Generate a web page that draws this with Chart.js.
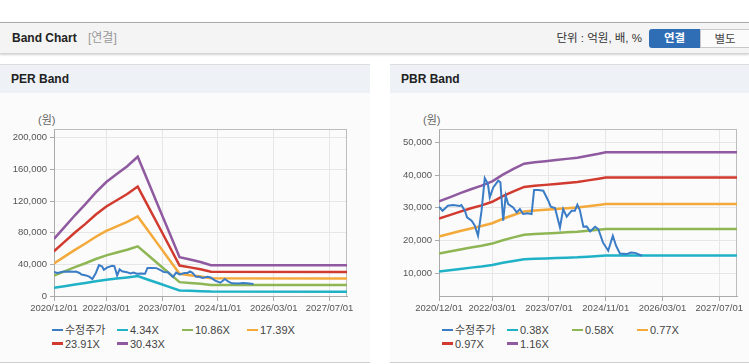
<!DOCTYPE html>
<html><head><meta charset="utf-8">
<script src="https://cdn.jsdelivr.net/npm/chart.js@4.4.1/dist/chart.umd.min.js"></script>
<style>
body{margin:0;width:749px;height:364px;overflow:hidden;background:#fff;font-family:"Liberation Sans",Arial,"Noto Sans CJK KR",sans-serif;position:relative}
.hdr{position:absolute;left:0;top:22px;width:749px;height:30px;background:#f4f4f4;border-top:1px solid #aaa;border-bottom:1px solid #d4d4d4;box-shadow:0 1px 2px rgba(0,0,0,.18)}
.hdr .t{position:absolute;left:12px;top:0;line-height:31px;font-size:12px;font-weight:bold;color:#222}
.hdr .s{position:absolute;left:88px;top:0;line-height:31px;font-size:12px;color:#999}
.hdr .u{position:absolute;right:107px;top:0;line-height:31px;font-size:11.5px;color:#333}
.btn{position:absolute;top:6px;height:19px;line-height:19px;font-size:11.5px;text-align:center}
.b1{left:649px;width:51px;background:#2f6db4;color:#fff;font-weight:bold;border-radius:3px 0 0 3px}
.b2{left:700px;width:49px;background:#fbfbfb;color:#444;border:1px solid #c8c8c8;border-right:none;box-sizing:border-box}
.panel{position:absolute;top:64px;height:297px;background:#fbfbfb;border-top:1px solid #dcdcdc;border-bottom:1px solid #cfcfcf}
.pt{height:28px;background:#eef2f7;font-weight:bold;font-size:12px;line-height:29px;padding-left:11px;color:#222}
.unit{position:absolute;top:46px;font-size:11px;color:#666}
.cv{position:absolute;top:29px;left:0}
.lg{position:absolute;top:259px;left:0;font-size:11px;color:#444}
.li{position:absolute;height:13px;line-height:13px;white-space:nowrap}
.li i{display:inline-block;width:11px;height:2.5px;vertical-align:middle;margin-right:2px;position:relative;top:-1px}
</style></head>
<body>
<div class="hdr"><span class="t">Band Chart</span><span class="s">[연결]</span><span class="u">단위 : 억원, 배, %</span>
<div class="btn b1">연결</div><div class="btn b2">별도</div></div>

<div class="panel" style="left:0;width:370px"><div class="pt">PER Band</div><div class="unit" style="left:38px">(원)</div>
<canvas id="per" class="cv" width="370" height="230"></canvas><div class="lg" id="lgPer"></div></div>

<div class="panel" style="left:390px;width:359px"><div class="pt">PBR Band</div><div class="unit" style="left:33px">(원)</div>
<canvas id="pbr" class="cv" width="359" height="230"></canvas><div class="lg" id="lgPbr"></div></div>

<script>
// x axis: months since 2020/12/01
const xTickMonths = [0, 15, 31, 47, 63, 79];
const xTickLabels = ["2020/12/01", "2022/03/01", "2023/07/01", "2024/11/01", "2026/03/01", "2027/07/01"];

// adjusted share price (수정주가)
const priceMonths = [0,1.0,2.5,4.0,5.8,6.3,7.3,7.9,9.2,10.1,11.0,12.0,12.9,13.8,14.3,15.3,16.7,17.3,18.1,18.8,19.5,20.9,21.9,22.8,23.7,25.0,26.1,26.8,28.0,29.4,30.8,31.5,32.7,34.1,35.0,36.0,37.4,38.3,39.0,39.7,40.7,41.6,42.6,44.0,44.9,46.2,47.7,49.0,49.9,51.0,52.9,54.1,55.3,57.2];
const priceValues = [30300,29100,30630,30840,30530,30800,29100,27050,26030,24500,21440,29100,39100,37270,33170,36230,38280,37800,26030,33700,31150,30100,28580,29600,28080,28300,28080,35430,35430,35220,32160,30320,29920,23980,29600,27260,29100,29100,30930,29310,24200,24300,22760,24200,23490,19390,16850,21440,18380,16020,15830,16320,16200,15310];

// PER band
const perMonths = [0,3,6,9,12,15,18,21,24,27,30,33,36,39,42,45,84];
const perLabels = ["4.34X","10.86X","17.39X","23.91X","30.43X"];
const per434  = [10268,12408,14548,16544,18684,20537,21965,23388,25103,20572,16045,11518,6987,6562,6132,5564,5520];
const per1086 = [25695,31049,36403,41398,46752,51390,54962,58525,62814,51476,40149,28822,17485,16420,15345,13923,13814];
const per1739 = [41145,49718,58291,66291,74864,82289,88011,93715,100584,82429,64291,46153,27998,26294,24572,22294,22120];
const per2391 = [56571,68359,80146,91145,102933,113142,121009,128851,138295,113333,88395,63457,38495,36152,33785,30653,30414];
const per3043 = [72000,87000,102000,116000,131000,144000,154000,164000,176000,144250,112500,80750,49000,46000,43000,39000,38700];
const perYTicks = [0,40000,80000,120000,160000,200000];

// PBR band
const pbrMonths = [0,3,6,9,12,15,18,21,24,27,30,33,36,39,42,45,47,84];
const pbrLabels = ["0.38X","0.58X","0.77X","0.97X","1.16X"];
const pbr038 = [10466,10876,11295,11685,12042,12475,13143,13719,14250,14381,14496,14610,14728,14840,15036,15233,15380,15380];
const pbr058 = [15975,16600,17240,17835,18380,19040,20060,20940,21750,21950,22125,22300,22480,22650,22950,23250,23475,23475];
const pbr077 = [21208,22038,22887,23678,24401,25278,26631,27799,28875,29141,29373,29605,29844,30070,30468,30866,31165,31165];
const pbr097 = [26717,27762,28832,29828,30739,31843,33548,35020,36375,36710,37003,37295,37596,37880,38382,38883,39260,39260];
const pbr116 = [31950,33200,34480,35670,36760,38080,40120,41880,43500,43900,44250,44600,44960,45300,45900,46500,46950,46950];
const pbrYTicks = [10000,20000,30000,40000,50000];

const priceName = "수정주가";
const colors = ["#3a7cc6","#1fb1c6","#8fb655","#f4a93b","#d13a2e","#8f5a9f"];

const pts = (xs, ys) => xs.map((x, i) => ({x: x, y: ys[i]}));
const tickFont = {family: "'Liberation Sans',Arial,sans-serif", size: 9.5};

const frame = {id:'frame', beforeDatasetsDraw(c){const a=c.chartArea,ctx=c.ctx;ctx.save();ctx.strokeStyle='#bdbdbd';ctx.lineWidth=1;
  ctx.beginPath();ctx.moveTo(a.left,Math.round(a.top)+0.5);ctx.lineTo(a.right,Math.round(a.top)+0.5);
  ctx.moveTo(Math.round(a.right)-0.5,a.top);ctx.lineTo(Math.round(a.right)-0.5,a.bottom);ctx.stroke();ctx.restore();}};

function makeChart(id, lgId, bandMonths, bands, labels, yMin, yMax, yTicks, yWidth, padRight) {
  const datasets = [{label: priceName, data: pts(priceMonths, priceValues), borderColor: colors[0], borderWidth: 2}];
  bands.forEach((b, i) => datasets.push({label: labels[i], data: pts(bandMonths, b), borderColor: colors[i+1], borderWidth: 2.5}));
  datasets.forEach(d => {d.pointRadius = 0; d.fill = false; d.tension = 0; d.backgroundColor = d.borderColor;});
  const ch = new Chart(document.getElementById(id), {
    type: 'line',
    data: {datasets},
    options: {
      responsive: false, animation: false, devicePixelRatio: 1,
      layout: {padding: {left: 0, top: 35, right: padRight, bottom: 0}},
      plugins: {legend: {display: false}, tooltip: {enabled: false}},
      scales: {
        x: {type: 'linear', min: 0, max: 84,
          afterBuildTicks: s => { s.ticks = xTickMonths.map(v => ({value: v})); },
          afterFit: s => { s.height = 28; },
          ticks: {callback: (v, i) => xTickLabels[i], color: '#555', font: tickFont, maxRotation: 0, autoSkip: false, padding: 2},
          grid: {color: '#e6e6e6', tickColor: '#aaa', tickLength: 5},
          border: {color: '#aaa'}},
        y: {min: yMin, max: yMax,
          afterBuildTicks: s => { s.ticks = yTicks.map(v => ({value: v})); },
          afterFit: s => { s.width = yWidth; },
          ticks: {callback: v => v.toLocaleString('en-US'), color: '#555', font: tickFont, padding: 3},
          grid: {color: '#e6e6e6', tickColor: '#aaa', tickLength: 4},
          border: {color: '#aaa'}}
      }
    },
    plugins: [frame]
  });
  const lg = document.getElementById(lgId);
  datasets.forEach((d, i) => {
    const el = document.createElement('div');
    el.className = 'li';
    el.style.left = (52 + (i % 4) * 65) + 'px';
    el.style.top = (Math.floor(i / 4) * 13.5) + 'px';
    el.innerHTML = '<i style="background:' + d.borderColor + '"></i>' + d.label;
    lg.appendChild(el);
  });
  return ch;
}

makeChart('per', 'lgPer', perMonths, [per434, per1086, per1739, per2391, per3043], perLabels, 0, 211000, perYTicks, 54, 23);
makeChart('pbr', 'lgPbr', pbrMonths, [pbr038, pbr058, pbr077, pbr097, pbr116], pbrLabels, 3000, 54100, pbrYTicks, 49, 12);
</script>
</body></html>
